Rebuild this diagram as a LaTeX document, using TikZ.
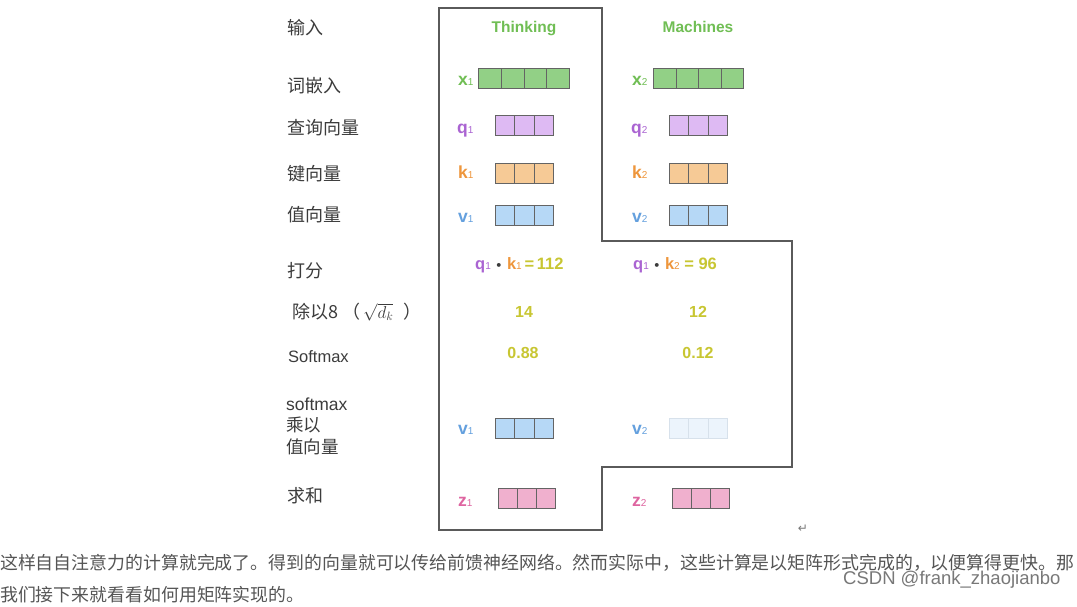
\documentclass[tikz,border=0pt]{standalone}
\usepackage{fontspec}
\setmainfont{Liberation Sans}
\newfontfamily\cjk{Noto Sans CJK SC}
\newfontfamily\symf{DejaVu Sans}
\definecolor{labgray}{RGB}{60,60,60}
\definecolor{txtgray}{RGB}{85,85,85}
\definecolor{wmgray}{RGB}{120,120,120}
\definecolor{framegray}{RGB}{90,90,90}
\definecolor{cellgray}{RGB}{100,100,100}
\definecolor{gtxt}{RGB}{112,190,84}
\definecolor{gfill}{RGB}{146,208,134}
\definecolor{ptxt}{RGB}{170,100,210}
\definecolor{pfill}{RGB}{222,186,243}
\definecolor{otxt}{RGB}{238,150,60}
\definecolor{ofill}{RGB}{246,202,150}
\definecolor{btxt}{RGB}{100,160,222}
\definecolor{bfill}{RGB}{182,216,246}
\definecolor{bpale}{RGB}{236,244,252}
\definecolor{bpaledraw}{RGB}{215,225,235}
\definecolor{ytxt}{RGB}{200,198,50}
\definecolor{ztxt}{RGB}{222,100,160}
\definecolor{zfill}{RGB}{240,176,206}
\tikzset{
  cn/.style={font=\cjk\fontsize{18}{21}\selectfont, text=labgray, anchor=west, inner sep=0pt},
  head/.style={font=\bfseries\fontsize{15.5}{18}\selectfont, text=gtxt, inner sep=0pt, anchor=base},
  vlab/.style={font=\bfseries\fontsize{17.5}{20}\selectfont, inner sep=0pt, anchor=base west},
  num/.style={font=\bfseries\fontsize{16}{18}\selectfont, text=ytxt, inner sep=0pt, anchor=base},
  cell/.style={draw=cellgray, line width=0.8pt, minimum height=20pt, inner sep=0pt, anchor=west},
}
\newcommand{\sbs}[1]{{\mdseries\fontsize{10}{10}\selectfont #1}}
% name, left x, center y, count, cell width, fill, draw
\newcommand{\vecrow}[7]{%
  \foreach \ii in {1,...,#4}{%
    \node[cell, fill=#6, draw=#7, minimum width=#5pt] (#1-\ii) at ({#2+(\ii-1)*#5},#3) {};
  }%
}
\begin{document}
\begin{tikzpicture}[x=1pt,y=-1pt]
\useasboundingbox[fill=white] (0,0) rectangle (1077,606);
% frame
\draw[framegray, line width=1.2pt] (439,8) -- (602,8) -- (602,241) -- (792,241) -- (792,467) -- (602,467) -- (602,530) -- (439,530) -- cycle;
% left labels
\node[cn] (l-in) at (287,28) {输入};
\node[cn] (l-emb) at (287,86) {词嵌入};
\node[cn] (l-q) at (287,128) {查询向量};
\node[cn] (l-k) at (287,174) {键向量};
\node[cn] (l-v) at (287,215) {值向量};
\node[cn] (l-score) at (287,271) {打分};
\node[cn] (l-div) at (292,312) {除以8 （\,$\sqrt{d_k}$\,\, ）};
\node[anchor=west, inner sep=0pt, font=\fontsize{16.5}{18}\selectfont, text=labgray] (l-sm) at (288,357) {Softmax};
\node[anchor=west, inner sep=0pt, align=left, text=labgray, font=\fontsize{17.5}{21.5}\selectfont] (l-smv) at (286,426) {softmax\\{\cjk 乘以}\\{\cjk 值向量}};
\node[cn] (l-sum) at (287,496) {求和};
% headers
\node[head] (h1) at (524,32) {Thinking};
\node[head] (h2) at (698,32) {Machines};
% x
\node[vlab, text=gtxt] (x1l) at (458,85) {x\sbs{1}};
\vecrow{x1}{478}{78}{4}{22.75}{gfill}{cellgray}
\node[vlab, text=gtxt] (x2l) at (632,85) {x\sbs{2}};
\vecrow{x2}{653}{78}{4}{22.5}{gfill}{cellgray}
% q
\node[vlab, text=ptxt] (q1l) at (457,133) {q\sbs{1}};
\vecrow{q1}{495}{125}{3}{19.33}{pfill}{cellgray}
\node[vlab, text=ptxt] (q2l) at (631,133) {q\sbs{2}};
\vecrow{q2}{669}{125}{3}{19.33}{pfill}{cellgray}
% k
\node[vlab, text=otxt] (k1l) at (458,178) {k\sbs{1}};
\vecrow{k1}{495}{173}{3}{19.33}{ofill}{cellgray}
\node[vlab, text=otxt] (k2l) at (632,178) {k\sbs{2}};
\vecrow{k2}{669}{173}{3}{19.33}{ofill}{cellgray}
% v
\node[vlab, text=btxt] (v1l) at (458,222) {v\sbs{1}};
\vecrow{v1}{495}{215}{3}{19.33}{bfill}{cellgray}
\node[vlab, text=btxt] (v2l) at (632,222) {v\sbs{2}};
\vecrow{v2}{669}{215}{3}{19.33}{bfill}{cellgray}
% scores
\node[vlab, font=\bfseries\fontsize{16.5}{18}\selectfont] (s1) at (475,269) {\textcolor{ptxt}{q\sbs{1}} \textcolor{labgray}{\symf\fontsize{11}{12}\selectfont •} \textcolor{otxt}{k\sbs{1}}\textcolor{ytxt}{\,=\,112}};
\node[vlab, font=\bfseries\fontsize{16.5}{18}\selectfont] (s2) at (633,269) {\textcolor{ptxt}{q\sbs{1}} \textcolor{labgray}{\symf\fontsize{11}{12}\selectfont •} \textcolor{otxt}{k\sbs{2}} \textcolor{ytxt}{= 96}};
\node[num] (d1) at (524,317) {14};
\node[num] (d2) at (698,317) {12};
\node[num] (m1) at (523,358) {0.88};
\node[num] (m2) at (698,358) {0.12};
% weighted v
\node[vlab, text=btxt] (wv1l) at (458,434) {v\sbs{1}};
\vecrow{wv1}{495}{428}{3}{19.33}{bfill}{cellgray}
\node[vlab, text=btxt] (wv2l) at (632,434) {v\sbs{2}};
\vecrow{wv2}{669}{428}{3}{19.33}{bpale}{bpaledraw}
% z
\node[vlab, text=ztxt] (z1l) at (458,506) {z\sbs{1}};
\vecrow{z1}{498}{498}{3}{19.0}{zfill}{cellgray}
\node[vlab, text=ztxt] (z2l) at (632,506) {z\sbs{2}};
\vecrow{z2}{672}{498}{3}{19.0}{zfill}{cellgray}
% return mark
\node[inner sep=0pt, text=wmgray, font=\symf\fontsize{12}{12}\selectfont] (ret) at (803,529) {↵};
% bottom text
\node[anchor=west, inner sep=0pt, text=txtgray, font=\cjk\fontsize{17.9}{20}\selectfont] (t1) at (0,563) {这样自自注意力的计算就完成了。得到的向量就可以传给前馈神经网络。然而实际中，这些计算是以矩阵形式完成的，以便算得更快。那};
\node[anchor=west, inner sep=0pt, text=txtgray, font=\cjk\fontsize{17.9}{20}\selectfont] (t2) at (0,595) {我们接下来就看看如何用矩阵实现的。};
\node[anchor=west, inner sep=0pt, text=wmgray, font=\fontsize{18.5}{20}\selectfont] (wm) at (843,580) {CSDN @frank\_zhaojianbo};
\end{tikzpicture}
\end{document}
